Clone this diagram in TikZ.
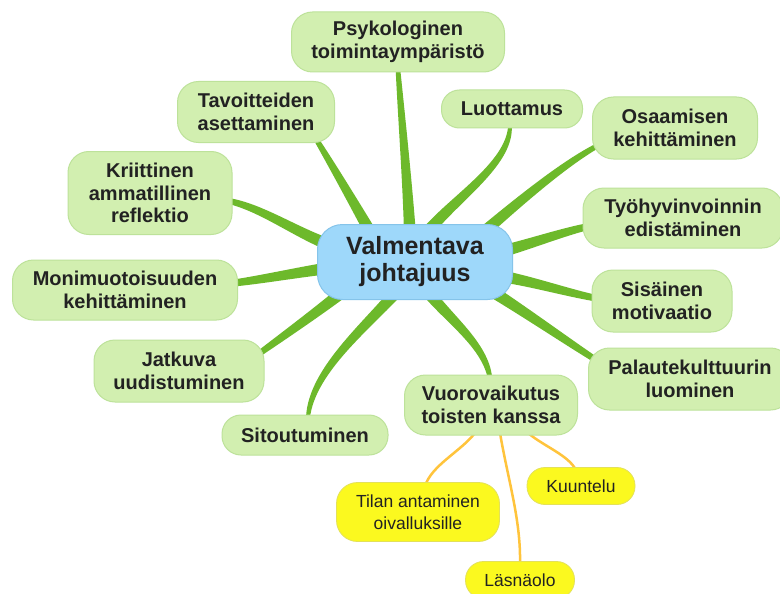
\documentclass[tikz,border=0pt]{standalone}
\usepackage{fontspec}
\setmainfont{Liberation Sans}
\usetikzlibrary{calc}
\definecolor{brgreen}{HTML}{6DB92B}
\definecolor{gfill}{HTML}{D2EFB0}
\definecolor{gline}{HTML}{BDE29A}
\definecolor{cfill}{HTML}{9ED8FA}
\definecolor{cline}{HTML}{85C4EA}
\definecolor{yfill}{HTML}{FBF91F}
\definecolor{yline}{HTML}{E3E15A}
\definecolor{ybranch}{HTML}{FFC43C}
\definecolor{txt}{HTML}{222222}
\newcommand\mybranch[6]{%
  \coordinate (bS) at #1; \coordinate (bA) at #2;
  \coordinate (bB) at #3; \coordinate (bE) at #4;
  \coordinate (bN) at ($(bS)!1pt!90:(bE)$);
  \coordinate (bV) at ($(bN)-(bS)$);
  \pgfmathsetmacro\wa{(2*#5+#6)/3}%
  \pgfmathsetmacro\wb{(#5+2*#6)/3}%
  \fill[brgreen] ($(bS)+#5*(bV)$) .. controls ($(bA)+\wa*(bV)$) and ($(bB)+\wb*(bV)$) .. ($(bE)+#6*(bV)$)
     -- ($(bE)-#6*(bV)$) .. controls ($(bB)-\wb*(bV)$) and ($(bA)-\wa*(bV)$) .. ($(bS)-#5*(bV)$) -- cycle;
}
\begin{document}
\begin{tikzpicture}[x=1pt,y=-1pt,
  gnode/.style={draw=gline, line width=1pt, fill=gfill, rounded corners=21pt, align=center,
     inner sep=0pt, text=txt, font=\fontsize{20}{22.5}\selectfont\bfseries},
  cnode/.style={draw=cline, line width=1pt, fill=cfill, rounded corners=25pt, align=center,
     inner sep=0pt, text=txt, font=\fontsize{25}{27}\selectfont\bfseries},
  ynode/.style={draw=yline, line width=0.8pt, fill=yfill, rounded corners=18pt, align=center,
     inner sep=0pt, text=txt, font=\fontsize{17.5}{21.7}\selectfont},
  yconn/.style={draw=ybranch, line width=2.5pt}]
\useasboundingbox (0,0) rectangle (780,594);
\clip (0,0) rectangle (780,594);
\fill[white] (0,0) rectangle (780,594);
\path
  (415,262) coordinate (c)
  (398,42) coordinate (psy)
  (256,112) coordinate (tav)
  (512,109) coordinate (luo)
  (675,128) coordinate (osa)
  (683,218) coordinate (tyo)
  (150,193) coordinate (krit)
  (125,290) coordinate (mon)
  (662,301) coordinate (sis)
  (690,379) coordinate (pal)
  (179,371) coordinate (jat)
  (305,435) coordinate (sit)
  (491,405) coordinate (vuo)
  (418,512) coordinate (til)
  (581,486) coordinate (kuu)
  (520,580) coordinate (las);
% branches
\mybranch{($(c)+(-5,-27)$)}{(408,190)}{(401,110)}{($(psy)+(0,28)$)}{6}{2.3}
\mybranch{($(c)+(-43,-27)$)}{(355,205)}{(332,165)}{($(tav)+(60,27)$)}{6}{2.5}
\mybranch{($(c)+(-85,-17)$)}{(295,232)}{(262,208)}{($(krit)+(79,8)$)}{6}{3}
\mybranch{($(c)+(10,-27)$)}{(452,200)}{(510,165)}{($(luo)+(-2,17)$)}{6}{2.3}
\mybranch{($(c)+(63,-25)$)}{(515,205)}{(562,165)}{($(osa)+(-78,18)$)}{6}{2.6}
\mybranch{($(c)+(85,-10)$)}{(530,244)}{(560,233)}{($(tyo)+(-97,9)$)}{6}{3.5}
\mybranch{($(c)+(85,14)$)}{(530,281)}{(565,292)}{($(sis)+(-67,-3)$)}{6}{3.3}
\mybranch{($(c)+(75,28)$)}{(525,312)}{(565,340)}{($(pal)+(-94,-19)$)}{6}{3}
\mybranch{($(c)+(13,30)$)}{(450,320)}{(485,345)}{($(vuo)+(-1,-27)$)}{6}{2.5}
\mybranch{($(c)+(-17,28)$)}{(368,325)}{(312,370)}{($(sit)+(3,-18)$)}{6}{2.3}
\mybranch{($(c)+(-70,28)$)}{(320,310)}{(285,335)}{($(jat)+(81,-18)$)}{6}{3}
\mybranch{($(c)+(-85,6)$)}{(300,272)}{(265,279)}{($(mon)+(109,-7)$)}{6}{3.5}
% yellow connectors
\draw[yconn] ($(vuo)+(-16,28)$) .. controls (460,452) and (432,465) .. ($(til)+(7,-26)$);
\draw[yconn] ($(vuo)+(9,28)$) .. controls (508,480) and (521,520) .. ($(las)+(0,-16)$);
\draw[yconn] ($(vuo)+(37,28)$) .. controls (545,447) and (568,455) .. ($(kuu)+(-5,-16)$);
% nodes
\node[cnode, minimum width=195, minimum height=75] (cn) at (c) {Valmentava\\johtajuus};
\node[gnode, minimum width=213, minimum height=60] (psyn) at (psy) {Psykologinen\\toimintaympäristö};
\node[gnode, minimum width=157, minimum height=61] (tavn) at (tav) {Tavoitteiden\\asettaminen};
\node[gnode, rounded corners=18pt, minimum width=141, minimum height=38] (luon) at (luo) {Luottamus};
\node[gnode, minimum width=165, minimum height=62] (osan) at (osa) {Osaamisen\\kehittäminen};
\node[gnode, minimum width=200, minimum height=60] (tyon) at (tyo) {Työhyvinvoinnin\\edistäminen};
\node[gnode, minimum width=164, minimum height=83] (kritn) at (krit) {Kriittinen\\ammatillinen\\reflektio};
\node[gnode, minimum width=225, minimum height=60] (monn) at (mon) {Monimuotoisuuden\\kehittäminen};
\node[gnode, minimum width=140, minimum height=62] (sisn) at (sis) {Sisäinen\\motivaatio};
\node[gnode, minimum width=203, minimum height=62] (paln) at (pal) {Palautekulttuurin\\luominen};
\node[gnode, minimum width=170, minimum height=62] (jatn) at (jat) {Jatkuva\\uudistuminen};
\node[gnode, rounded corners=19pt, minimum width=166, minimum height=40] (sitn) at (sit) {Sitoutuminen};
\node[gnode, minimum width=173, minimum height=60] (vuon) at (vuo) {Vuorovaikutus\\toisten kanssa};
\node[ynode, rounded corners=21pt, minimum width=163, minimum height=59] (tiln) at (til) {Tilan antaminen\\oivalluksille};
\node[ynode, minimum width=108, minimum height=37] (kuun) at (kuu) {Kuuntelu};
\node[ynode, minimum width=109, minimum height=37] (lasn) at (las) {Läsnäolo};
\end{tikzpicture}
\end{document}
